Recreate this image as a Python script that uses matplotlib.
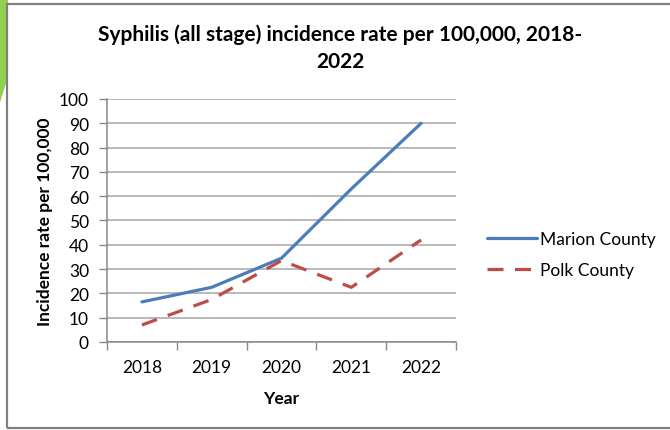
import numpy as np
import matplotlib
matplotlib.use("Agg")
from matplotlib import pyplot as plt
from matplotlib.patches import Polygon, Rectangle

# values
years = ['2018', '2019', '2020', '2021', '2022']
marion = [16.5, 22.5, 34.5, 63, 90]
polk = [7, 17.5, 33.5, 22.5, 42]
y_ticks = np.arange(0, 101, 10)

plt.rcParams['font.family'] = ['Lato', 'DejaVu Sans']

fig = plt.figure(figsize=(6.7, 4.31), dpi=100)

# slide decoration and chart frame
fig.patches.append(Polygon([[0, 1], [0.012, 1], [0.012, 0.82], [0.0, 0.76]],
                           closed=True, transform=fig.transFigure,
                           facecolor='#92D050', edgecolor='none'))
fig.patches.append(Rectangle((0.0105, 0.004), 1.2, 0.984, transform=fig.transFigure,
                             facecolor='none', edgecolor='#808080', linewidth=1.6))

ax = fig.add_axes([0.1597, 0.2042, 0.5209, 0.5638])
x = np.arange(len(years))

ax.plot(x, marion, color='#4A7EBB', lw=2.3, label='Marion County',
        solid_capstyle='round')
ax.plot(x, polk, color='#BE4B48', lw=2.3, label='Polk County',
        dashes=(5, 3.6))

ax.set_xlim(-0.5, 4.5)
ax.set_ylim(0, 100)
ax.set_yticks(y_ticks)
ax.set_xticks(x)
ax.set_xticklabels(years)
ax.set_xticks(np.arange(-0.5, 4.6, 1), minor=True)
ax.tick_params(axis='x', which='major', length=0, pad=12, labelsize=12.5)
ax.tick_params(axis='x', which='minor', length=6, color='#888888', width=1)
ax.tick_params(axis='y', length=6, color='#888888', width=1, labelsize=12.5, pad=7)
ax.grid(axis='y', color='#A6A6A6', linewidth=1.1)
ax.set_axisbelow(True)

for side in ['top', 'right']:
    ax.spines[side].set_visible(False)
ax.spines['left'].set_color('#888888')
ax.spines['bottom'].set_color('#888888')
ax.spines['left'].set_linewidth(1.1)
ax.spines['bottom'].set_linewidth(1.1)

ax.set_xlabel('Year', fontsize=12.5, fontweight='bold', labelpad=11)
ax.set_ylabel('Incidence rate per 100,000', fontsize=12.5, fontweight='bold', labelpad=4)

fig.text(0.508, 0.888, 'Syphilis (all stage) incidence rate per 100,000, 2018-\n2022',
         ha='center', va='center', fontsize=15, fontweight='bold', linespacing=1.45)

ax.legend(loc='center left', bbox_to_anchor=(1.089, 0.36), frameon=False,
          fontsize=12.5, handlelength=2.9, handletextpad=0.17, labelspacing=0.85,
          borderpad=0, borderaxespad=0)

plt.savefig('out.png', dpi=100)
